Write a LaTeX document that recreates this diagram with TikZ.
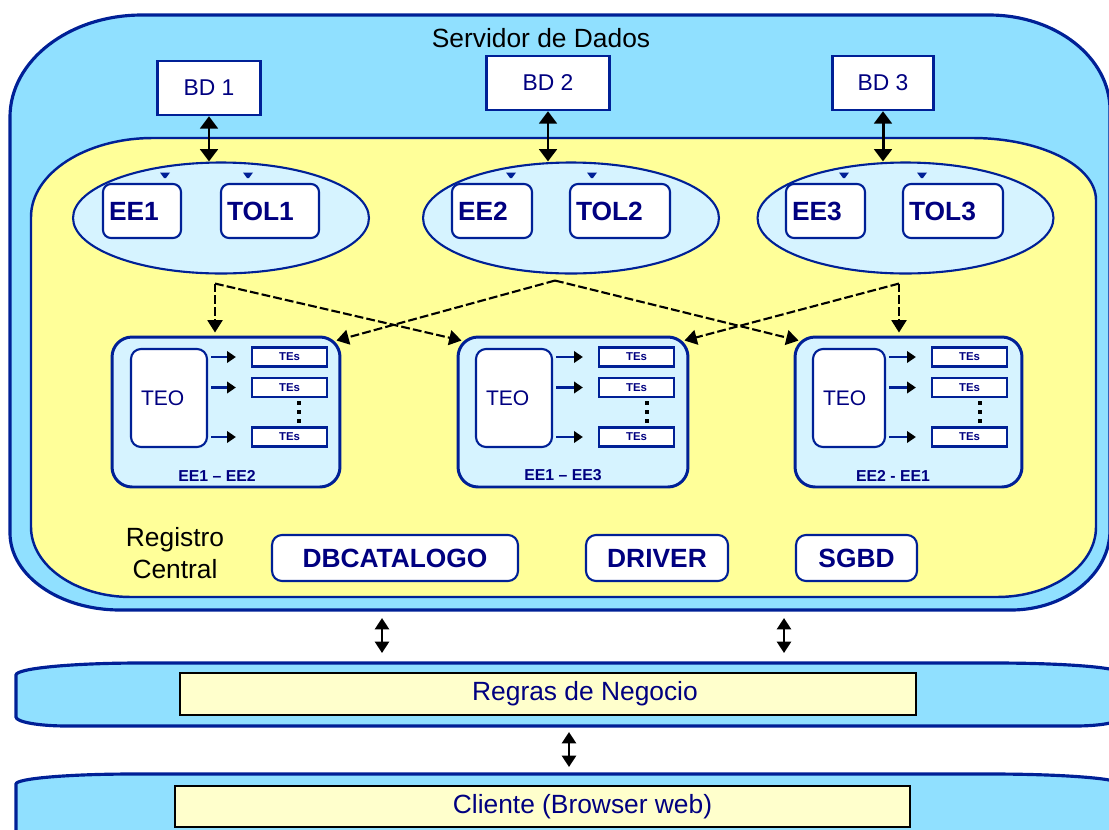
\documentclass[tikz,border=0pt]{standalone}
\usepackage{fontspec}
\setmainfont{Liberation Sans}
\usetikzlibrary{arrows.meta,shapes.geometric,calc}

\definecolor{skyfill}{RGB}{144,224,255}
\definecolor{padfill}{RGB}{255,255,153}
\definecolor{palecyan}{RGB}{214,243,255}
\definecolor{edgeblue}{RGB}{0,32,150}
\definecolor{inkblue}{RGB}{0,0,128}
\definecolor{paleyellow}{RGB}{255,255,204}

\tikzset{
  outline/.style={draw=edgeblue, line width=1.8pt},
  dbbox/.style={draw=edgeblue, fill=white, line width=1.4pt, minimum height=1.08cm,
    inner sep=0pt, font=\fontsize{13}{15}\selectfont, text=inkblue},
  group/.style={ellipse, draw=edgeblue, fill=palecyan, line width=1.2pt,
    minimum width=5.92cm, minimum height=2.22cm, inner sep=0pt},
  unit/.style={draw=edgeblue, fill=white, line width=1.2pt, rounded corners=0.16cm,
    minimum height=1.08cm, inner xsep=0.12cm, inner ysep=0pt, align=left,
    font=\bfseries\fontsize{15}{17}\selectfont, text=inkblue},
  panel/.style={draw=edgeblue, fill=palecyan, line width=1.7pt, rounded corners=0.4cm,
    minimum height=3.0cm, inner sep=0pt},
  teobox/.style={draw=edgeblue, fill=white, line width=1.2pt, rounded corners=0.2cm,
    minimum height=1.96cm, inner xsep=0.2cm, inner ysep=0pt, align=left,
    font=\fontsize{12}{14}\selectfont, text=inkblue},
  tebox/.style={draw=edgeblue, fill=white, line width=1.3pt, minimum width=1.5cm,
    minimum height=0.38cm, inner sep=0pt, font=\bfseries\fontsize{6.5}{7}\selectfont, text=inkblue},
  tag/.style={font=\bfseries\fontsize{9}{10}\selectfont, text=inkblue},
  module/.style={draw=edgeblue, fill=white, line width=1.2pt, rounded corners=0.2cm,
    minimum height=0.92cm, inner sep=0pt, font=\bfseries\fontsize{15}{17}\selectfont, text=inkblue},
  layer/.style={draw=black, fill=paleyellow, line width=1.5pt, inner sep=0pt},
  layertext/.style={text=inkblue, font=\fontsize{15}{17}\selectfont},
  dbl/.style={black, line width=1.7pt,
    {Triangle[width=10pt,length=7pt]}-{Triangle[width=10pt,length=7pt]}},
  dblthin/.style={black, line width=1.5pt,
    {Triangle[width=8pt,length=6.5pt]}-{Triangle[width=8pt,length=6.5pt]}},
  link/.style={black, line width=1.2pt, dash pattern=on 5pt off 1.8pt,
    -{Triangle[width=8.5pt,length=7pt]}},
  feed/.style={edgeblue, line width=1.2pt, -{Triangle[width=6.5pt,length=5pt,color=black]}},
}

\begin{document}
\begin{tikzpicture}[x=0.02cm, y=-0.02cm]
\useasboundingbox (0,0) rectangle (1109,829);
\clip (0,0) rectangle (1109,829);

% data server container
\path[outline, fill=skyfill] (10,117)
  arc[start angle=180, end angle=270, x radius=132, y radius=102] -- (989,15)
  arc[start angle=270, end angle=360, x radius=121, y radius=95] -- (1110,530)
  arc[start angle=0, end angle=90, x radius=99, y radius=80] -- (120,610)
  arc[start angle=90, end angle=180, x radius=110, y radius=77] -- cycle;

% central registry area
\path[outline, line width=1.4pt, fill=padfill] (31,217)
  arc[start angle=180, end angle=270, x radius=122, y radius=79] -- (972,138)
  arc[start angle=270, end angle=360, x radius=124, y radius=62] -- (1096,527)
  arc[start angle=0, end angle=90, x radius=99, y radius=70] -- (131,597)
  arc[start angle=90, end angle=180, x radius=100, y radius=70] -- cycle;

\node (title) at (541,38) {\fontsize{15}{17}\selectfont Servidor de Dados};

% databases
\node[dbbox, minimum width=2.06cm] (bd1) at (209,88) {BD 1};
\node[dbbox, minimum width=2.46cm] (bd2) at (548,83) {BD 2};
\node[dbbox, minimum width=2.02cm] (bd3) at (883,83) {BD 3};

% execution groups
\node[group] (g1) at (221,218) {};
\node[group] (g2) at (571,218) {};
\node[group] (g3) at (905.5,218) {};

\draw[dbl] (bd1.south) -- (bd1.south |- g1.north);
\draw[dbl] (bd2.south) -- (bd2.south |- g2.north);
\draw[dbl] (bd3.south) -- (bd3.south |- g3.north);

\node[unit, text width=1.32cm] (ee1) at (142,211) {EE1};
\node[unit, text width=1.72cm] (tol1) at (270,211) {TOL1};
\node[unit, text width=1.36cm] (ee2) at (492,211) {EE2};
\node[unit, text width=1.76cm] (tol2) at (620,211) {TOL2};
\node[unit, text width=1.34cm] (ee3) at (825.5,211) {EE3};
\node[unit, text width=1.76cm] (tol3) at (953,211) {TOL3};

% small markers above the units
\foreach \x in {165,248,511,592,844,922}
  \fill[edgeblue] (\x-5,172.5) -- (\x+5,172.5) -- (\x+1,178) -- (\x-1,178) -- cycle;

% mapping panels
\node[panel, minimum width=4.56cm] (p1) at (226,412) {};
\node[panel, minimum width=4.60cm] (p2) at (573,412) {};
\node[panel, minimum width=4.54cm] (p3) at (908.5,412) {};

\node[teobox, minimum width=1.52cm, text width=1.12cm] (teo1) at (169,398) {TEO};
\node[teobox, minimum width=1.52cm, text width=1.12cm] (teo2) at (514,398) {TEO};
\node[teobox, minimum width=1.44cm, text width=1.04cm] (teo3) at (849,398) {TEO};

\node[tebox] (a1) at (289.5,357) {TEs};
\node[tebox] (a2) at (289.5,387.5) {TEs};
\node[tebox] (a3) at (289.5,437) {TEs};
\node[tebox] (b1) at (636.5,357) {TEs};
\node[tebox] (b2) at (636.5,387.5) {TEs};
\node[tebox] (b3) at (636.5,437) {TEs};
\node[tebox] (c1) at (969.5,357) {TEs};
\node[tebox] (c2) at (969.5,387.5) {TEs};
\node[tebox] (c3) at (969.5,437) {TEs};

\foreach \t/\e in {teo1/a1,teo1/a2,teo1/a3,teo2/b1,teo2/b2,teo2/b3,teo3/c1,teo3/c2,teo3/c3}
  \draw[feed, shorten <=0.06cm, shorten >=0.3cm] (\t.east |- \e.west) -- (\e.west);

\foreach \x in {299,647,980}
  \foreach \y in {403,412,421}
    \fill (\x-2,\y-2) rectangle (\x+2,\y+2);

\node[tag] (lab1) at ($(p1.south)+(-9,-13)$) {EE1 – EE2};
\node[tag] (lab2) at ($(p2.south)+(-10,-13)$) {EE1 – EE3};
\node[tag] (lab3) at ($(p3.south)+(-15.5,-13)$) {EE2 - EE1};

% links from the groups to the panels
\coordinate (s1) at ($(g1.south)+(-6,9)$);
\coordinate (s2) at ($(g2.south)+(-16,6)$);
\coordinate (s3) at ($(g3.south)+(-6.5,9)$);
\draw[link, shorten >=0.06cm] (s1) -- (s1 |- p1.north);
\draw[link] (s1) -- ([xshift=0.1cm,yshift=-0.1cm]p2.north west);
\draw[link] (s2) -- ([xshift=-0.1cm,yshift=-0.1cm]p1.north east);
\draw[link] (s2) -- ([xshift=0.1cm,yshift=-0.1cm]p3.north west);
\draw[link, shorten >=0.06cm] (s3) -- (s3 |- p3.north);
\draw[link] (s3) -- ([xshift=-0.1cm,yshift=-0.1cm]p2.north east);

% registry components
\node[align=center, font=\fontsize{15}{18}\selectfont] (reg) at (175,553) {Registro\\Central};
\node[module, minimum width=4.92cm] (cat) at (395,558) {DBCATALOGO};
\node[module, minimum width=2.84cm] (drv) at (657,558) {DRIVER};
\node[module, minimum width=2.42cm] (dbms) at (856.5,558) {SGBD};

% business rules band
\path[outline, fill=skyfill] (16,675)
  arc[start angle=180, end angle=270, x radius=125, y radius=12] -- (994,663)
  arc[start angle=270, end angle=360, x radius=126, y radius=10] -- (1120,718)
  arc[start angle=0, end angle=90, x radius=45, y radius=8] -- (67,726)
  arc[start angle=90, end angle=180, x radius=51, y radius=9] -- cycle;
\node[layer, minimum width=14.72cm, minimum height=0.84cm] (rules) at (548,694) {};
\node[layertext] (rulestext) at ($(rules.center)+(37,0)$) {Regras de Negocio};

% client band
\path[outline, fill=skyfill] (16,784)
  arc[start angle=180, end angle=270, x radius=118, y radius=10] -- (990,774)
  arc[start angle=270, end angle=360, x radius=130, y radius=10] -- (1120,850)
  -- (16,850) -- cycle;
\node[layer, minimum width=14.70cm, minimum height=0.82cm] (client) at (542.5,806.5) {};
\node[layertext] (clienttext) at ($(client.center)+(40,0)$) {Cliente (Browser web)};

% links between tiers
\coordinate (srvA) at (382,610);
\coordinate (srvB) at (784,610);
\coordinate (rulesA) at (382,663);
\coordinate (rulesB) at (784,663);
\coordinate (rulesC) at (569,726);
\coordinate (clientC) at (569,774);
\draw[dblthin, shorten <=0.16cm, shorten >=0.2cm] (srvA) -- (rulesA);
\draw[dblthin, shorten <=0.16cm, shorten >=0.2cm] (srvB) -- (rulesB);
\draw[dblthin, shorten <=0.12cm, shorten >=0.14cm] (rulesC) -- (clientC);
\end{tikzpicture}
\end{document}
